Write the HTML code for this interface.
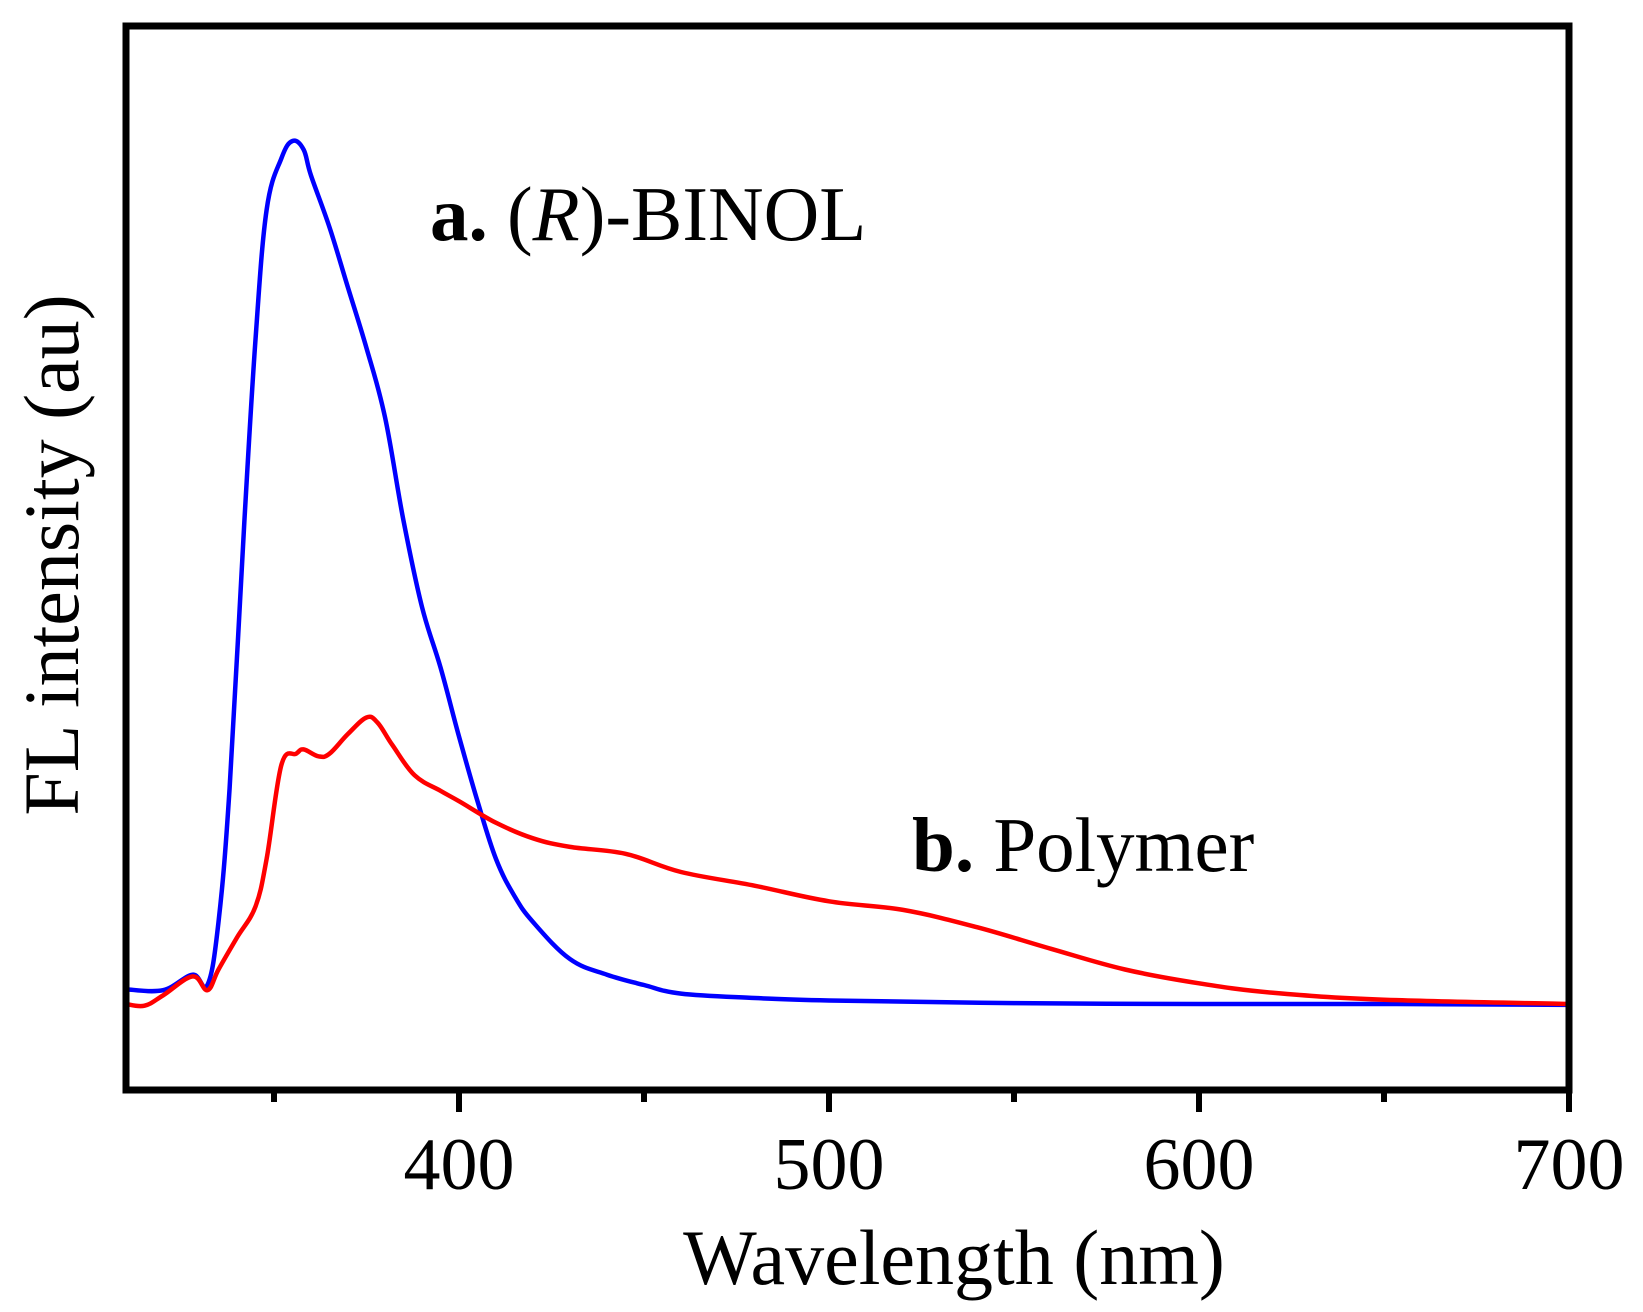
<!DOCTYPE html>
<html><head><meta charset="utf-8"><style>
html,body{margin:0;padding:0;background:#fff;}
svg{display:block;font-family:"Liberation Serif",serif;}
</style></head><body>
<svg id="chart" width="1643" height="1312" viewBox="0 0 1643 1312" xmlns="http://www.w3.org/2000/svg">
<g id="plot"></g>
<g id="axes"></g>
</svg>
<script>
const blueX=[310,320,328,332,335,338,342,345,348,352,355,358,360,365,370,375,380,385,390,395,400,405,410,415,420,430,440,450,460,480,500,550,600,650,700];
const blueY=[1.7,1.6,3.4,2.2,9.5,25,56,77,92,98,100,99,96,90,83,76,68,56,46,39,31,23.5,16.8,12.5,9.5,5.2,3.4,2.2,1.2,0.7,0.4,0.1,0,0,-0.1];
const redX=[310,315,320,328,332,335,340,345,348,352,356,358,362,365,370,375,378,382,388,395,400,410,420,430,445,460,480,500,520,540,560,580,600,620,650,700];
const redY=[0,-0.2,1,3.2,1.6,4,7.7,11.3,16.8,27.7,29,29.5,28.7,29,31.3,33.2,32.6,30,26.5,24.7,23.5,21,19.2,18.2,17.4,15.3,13.7,11.9,10.9,8.9,6.4,4,2.4,1.3,0.5,0];
const xTicks=[400,500,600,700];
const xMinor=[350,450,550,650];
const NS='http://www.w3.org/2000/svg';
const L=126,R=1569,T=26,B=1090;
function xs(v){return 459+(v-400)*3.7;}
function ys(v){return 1004-v*8.63;}
function mk(tag,attrs,parent){const e=document.createElementNS(NS,tag);for(const k in attrs)e.setAttribute(k,attrs[k]);parent.appendChild(e);return e;}
const plot=document.getElementById('plot'),axes=document.getElementById('axes');
function line(xa,ya,color,name){
  const pts=xa.map((x,i)=>[xs(x),ys(ya[i])]);
  let d='M'+pts[0][0].toFixed(1)+','+pts[0][1].toFixed(1);
  for(let i=0;i<pts.length-1;i++){
    const p0=pts[Math.max(0,i-1)],p1=pts[i],p2=pts[i+1],p3=pts[Math.min(pts.length-1,i+2)];
    const t=0.18;
    const c1=[p1[0]+(p2[0]-p0[0])*t,p1[1]+(p2[1]-p0[1])*t];
    const c2=[p2[0]-(p3[0]-p1[0])*t,p2[1]-(p3[1]-p1[1])*t];
    d+='C'+c1[0].toFixed(1)+','+c1[1].toFixed(1)+' '+c2[0].toFixed(1)+','+c2[1].toFixed(1)+' '+p2[0].toFixed(1)+','+p2[1].toFixed(1);
  }
  const p=mk('path',{d:d,fill:'none',stroke:color,'stroke-width':4.5,'stroke-linejoin':'round'},plot);
  
  
}
line(blueX,blueY,'#0000ff','binol-line');
line(redX,redY,'#ff0000','polymer-line');
const fr=mk('rect',{x:L,y:T,width:R-L,height:B-T,fill:'none',stroke:'#000','stroke-width':7},axes);


xTicks.forEach(v=>{
  const t=mk('line',{x1:xs(v),x2:xs(v),y1:B,y2:B+22,stroke:'#000','stroke-width':6},axes);
  
  
  const tx=mk('text',{x:xs(v),y:1189,'font-size':74,'text-anchor':'middle'},axes);
  tx.textContent=v;
  
  
});
xMinor.forEach(v=>{
  const t=mk('line',{x1:xs(v),x2:xs(v),y1:B,y2:B+12,stroke:'#000','stroke-width':6},axes);
  
  
});
</script>
<svg style="position:absolute;left:0;top:0" width="1643" height="1312">
<text x="954" y="1284" font-size="78" text-anchor="middle" font-family="Liberation Serif,serif">Wavelength (nm)</text>
<text transform="translate(78,555) rotate(-90)" font-size="78" text-anchor="middle" font-family="Liberation Serif,serif">FL intensity (au)</text>
<text x="430" y="240" font-size="77" font-family="Liberation Serif,serif"><tspan font-weight="bold">a.</tspan> (<tspan font-style="italic">R</tspan>)-BINOL</text>
<text x="912" y="871" font-size="77" font-family="Liberation Serif,serif"><tspan font-weight="bold">b.</tspan> Polymer</text>
</svg>
</body></html>
